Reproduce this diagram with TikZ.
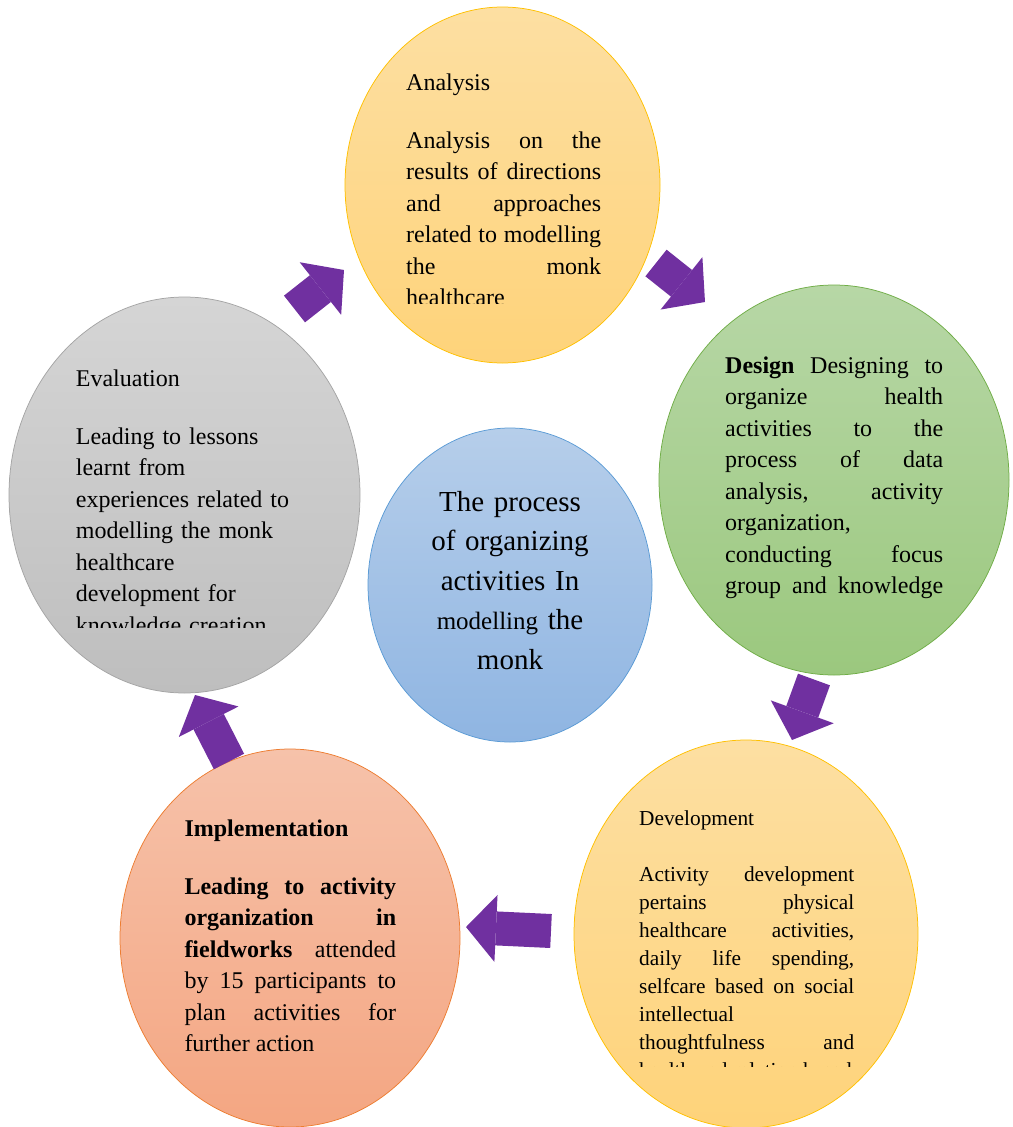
\documentclass[tikz,border=0pt]{standalone}
\usepackage{fontspec}
\setmainfont{Liberation Serif}
\usetikzlibrary{shapes.geometric,arrows.meta}

\definecolor{flowpurple}{RGB}{112,48,160}
\definecolor{yellowtop}{RGB}{253,223,162}
\definecolor{yellowbottom}{RGB}{254,211,122}
\definecolor{yellowborder}{RGB}{255,192,0}
\definecolor{greentop}{RGB}{183,215,166}
\definecolor{greenbottom}{RGB}{155,200,126}
\definecolor{greenborder}{RGB}{112,173,71}
\definecolor{salmontop}{RGB}{246,194,170}
\definecolor{salmonbottom}{RGB}{244,166,130}
\definecolor{salmonborder}{RGB}{237,125,49}
\definecolor{greytop}{RGB}{213,213,213}
\definecolor{greybottom}{RGB}{190,190,190}
\definecolor{greyborder}{RGB}{165,165,165}
\definecolor{bluetop}{RGB}{182,206,234}
\definecolor{bluebottom}{RGB}{143,181,226}
\definecolor{blueborder}{RGB}{91,155,213}

\tolerance=10000
\hyphenpenalty=10000
\hbadness=10000
\parindent=0pt

\begin{document}
\begin{tikzpicture}[x=1pt,y=-1pt,
    bubble/.style={ellipse, inner sep=0pt, line width=0.75pt},
    bodytext/.style={anchor=base west, inner sep=0pt, align=justify,
      font=\fontsize{24}{31.5}\selectfont},
    flow/.style={line width=34pt, draw=flowpurple,
      -{Triangle[width=67pt,length=30pt,line width=0pt]}}]
  \useasboundingbox (0,0) rectangle (1012,1127);

  % Stage bubbles
  \node[bubble, draw=yellowborder, top color=yellowtop, bottom color=yellowbottom,
    minimum width=315pt, minimum height=356pt] (analysis) at (502.5,185) {};
  \node[bubble, draw=greenborder, top color=greentop, bottom color=greenbottom,
    minimum width=350pt, minimum height=390pt] (design) at (834,480) {};
  \node[bubble, draw=yellowborder, top color=yellowtop, bottom color=yellowbottom,
    minimum width=344pt, minimum height=388pt] (development) at (746,934) {};
  \node[bubble, draw=salmonborder, top color=salmontop, bottom color=salmonbottom,
    minimum width=340pt, minimum height=378pt] (implementation) at (290,938) {};
  \node[bubble, draw=greyborder, top color=greytop, bottom color=greybottom,
    minimum width=351pt, minimum height=396pt] (evaluation) at (184.5,495) {};
  \node[bubble, draw=blueborder, top color=bluetop, bottom color=bluebottom,
    minimum width=284pt, minimum height=314pt] (process) at (510,585) {};

  % Texts
  \begin{scope}
    \clip (340,0) rectangle (670,303);
    \node[bodytext, text width=195pt] (analysisText) at (406,90)
      {Analysis\par\vspace{26.5pt}Analysis on the\linebreak results of directions\linebreak
       and approaches\linebreak related to modelling\linebreak the monk\linebreak healthcare};
  \end{scope}

  \node[bodytext, text width=218pt] (designText) at (725,373.3)
    {\textbf{Design} Designing to\linebreak organize health\linebreak
     activities to the\linebreak process of data\linebreak analysis, activity\linebreak
     organization,\linebreak conducting focus\linebreak group and knowledge\linebreak\mbox{}};

  \begin{scope}
    \clip (570,740) rectangle (920,1066);
    \node[bodytext, text width=215pt, font=\fontsize{21.33}{27.9}\selectfont]
      (developmentText) at (639,825)
      {Development\par\vspace{28.8pt}Activity development\linebreak pertains physical\linebreak
       healthcare activities,\linebreak daily life spending,\linebreak
       selfcare based on social\linebreak intellectual\linebreak thoughtfulness and\linebreak
       health and relation based};
  \end{scope}

  \node[bodytext, text width=211.7pt] (implementationText) at (184.3,836)
    {\textbf{Implementation}\par\vspace{26.5pt}\textbf{Leading to activity\linebreak
     organization in\linebreak fieldworks} attended\linebreak by 15 participants to\linebreak
     plan activities for\linebreak further action};

  \begin{scope}
    \clip (0,290) rectangle (370,627);
    \node[bodytext, align=left, text width=240pt] (evaluationText) at (75.7,386)
      {Evaluation\par\vspace{26.5pt}Leading to lessons\\learnt from\\experiences related to\\
       modelling the monk\\healthcare\\development for\\knowledge creation};
  \end{scope}

  \node[anchor=base, inner sep=0pt, align=center, text width=230pt,
    font=\fontsize{29}{39.5}\selectfont] (processText) at (510,511)
    {The process\\of organizing\\activities In\\{\fontsize{25}{39.5}\selectfont modelling} the\\monk};

  % Flow arrows
  \coordinate (evalOut) at (294.5,309);
  \coordinate (analysisIn) at (344,270);
  \coordinate (analysisOut) at (656,263);
  \coordinate (designIn) at (705,302);
  \coordinate (designOut) at (814,679.5);
  \coordinate (developmentIn) at (792,740);
  \coordinate (developmentOut) at (551,931);
  \coordinate (implementationIn) at (466,927);
  \coordinate (implementationOut) at (229,761.5);
  \coordinate (evalIn) at (195,695);

  \draw[flow] (evalOut) -- (analysisIn);
  \draw[flow] (analysisOut) -- (designIn);
  \draw[flow] (designOut) -- (developmentIn);
  \draw[flow] (developmentOut) -- (implementationIn);
  \draw[flow] (implementationOut) -- (evalIn);
\end{tikzpicture}
\end{document}
